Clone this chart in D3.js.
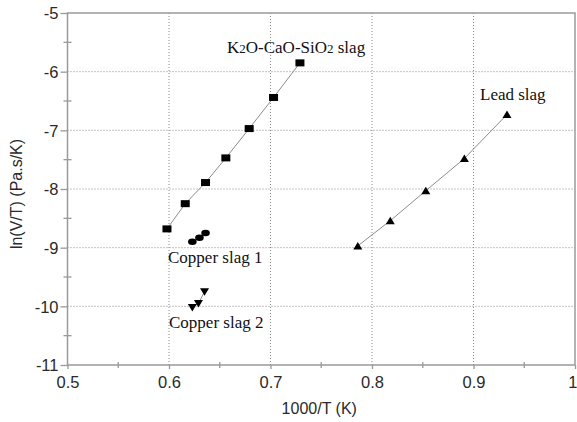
<!DOCTYPE html>
<html>
<head>
<meta charset="utf-8">
<script src="https://cdn.jsdelivr.net/npm/d3@7"></script>
<style>
  body { margin: 0; background: #fff; }
  svg { display: block; }
</style>
</head>
<body>
<svg id="chart" width="577" height="422"></svg>
<script>
// Viscosity data: ln(V/T) against 1000/T for four slags
const kcsX = [0.598, 0.616, 0.636, 0.656, 0.679, 0.703, 0.729];
const kcsY = [-8.68, -8.25, -7.89, -7.47, -6.97, -6.44, -5.85];
const cu1X = [0.623, 0.630, 0.636];
const cu1Y = [-8.90, -8.83, -8.75];
const cu2X = [0.623, 0.629, 0.635];
const cu2Y = [-10.02, -9.95, -9.75];
const leadX = [0.786, 0.818, 0.853, 0.891, 0.933];
const leadY = [-8.97, -8.54, -8.03, -7.48, -6.73];
const xTicks = [0.5, 0.6, 0.7, 0.8, 0.9, 1];
const yTicks = [-5, -6, -7, -8, -9, -10, -11];

const svg = d3.select("#chart");
const plotLeft = 67.5, plotRight = 575, plotTop = 13, plotBottom = 365;

const x = d3.scaleLinear().domain([0.5, 1]).range([plotLeft, plotRight]);
const y = d3.scaleLinear().domain([-11, -5]).range([plotBottom, plotTop]);

const frameColor = "#9a9a9a";
const gridColor = "#8a8a8a";
const sans = "'Liberation Sans', Arial, sans-serif";
const serif = "'Liberation Serif', 'Times New Roman', serif";

// dotted grid at the major ticks
const grid = svg.append("g");
grid.selectAll("line.gx").data(xTicks.filter(v => v > 0.5 && v < 1)).join("line")
  .attr("x1", d => x(d)).attr("x2", d => x(d))
  .attr("y1", plotTop).attr("y2", plotBottom)
  .attr("stroke", gridColor).attr("stroke-width", 1).attr("stroke-dasharray", "1,2");
grid.selectAll("line.gy").data(yTicks.filter(v => v < -5 && v > -11)).join("line")
  .attr("x1", plotLeft).attr("x2", plotRight)
  .attr("y1", d => y(d)).attr("y2", d => y(d))
  .attr("stroke", gridColor).attr("stroke-width", 1).attr("stroke-dasharray", "1,2");

// frame
svg.append("rect").attr("x", plotLeft).attr("y", plotTop)
  .attr("width", plotRight - plotLeft).attr("height", plotBottom - plotTop)
  .attr("fill", "none").attr("stroke", frameColor).attr("stroke-width", 1.5);

// axes
const xAxis = d3.axisBottom(x).tickValues(xTicks).tickSize(4)
  .tickFormat(d => d === 1 ? "1" : d3.format(".1f")(d));
const gx = svg.append("g").attr("transform", `translate(0,${plotBottom})`).call(xAxis);
const yAxis = d3.axisLeft(y).tickValues(yTicks).tickSize(7).tickFormat(d => String(d));
const gy = svg.append("g").attr("transform", `translate(${plotLeft},0)`).call(yAxis);
[gx, gy].forEach(g => {
  g.select(".domain").remove();
  g.selectAll(".tick line").attr("stroke", frameColor).attr("stroke-width", 1.3);
  g.selectAll(".tick text").attr("fill", "#2a2a2a")
    .style("font-family", sans).style("font-size", "16.5px");
});
gx.selectAll(".tick text").attr("dy", "1.0em").attr("y", 6);
// the last label sits against the right edge of the page
gx.selectAll(".tick text").filter(d => d === 1).attr("text-anchor", "end").attr("x", 577 - x(1));
gy.selectAll(".tick text").attr("x", -9).attr("dy", "0.35em");

// minor ticks crossing the axes at half steps
const xMinor = d3.range(0.55, 1, 0.1);
const yMinor = d3.range(-5.5, -11, -1);
svg.append("g").selectAll("line").data(xMinor).join("line")
  .attr("x1", d => x(d)).attr("x2", d => x(d))
  .attr("y1", plotBottom - 3).attr("y2", plotBottom + 3)
  .attr("stroke", frameColor).attr("stroke-width", 1.3);
svg.append("g").selectAll("line").data(yMinor).join("line")
  .attr("x1", plotLeft - 4).attr("x2", plotLeft + 4)
  .attr("y1", d => y(d)).attr("y2", d => y(d))
  .attr("stroke", frameColor).attr("stroke-width", 1.3);

// series lines
const line = d3.line().x(d => x(d[0])).y(d => y(d[1]));
const pairs = (xs, ys) => xs.map((v, i) => [v, ys[i]]);
const series = [
  { pts: pairs(kcsX, kcsY), shape: "square" },
  { pts: pairs(cu1X, cu1Y), shape: "circle" },
  { pts: pairs(cu2X, cu2Y), shape: "down" },
  { pts: pairs(leadX, leadY), shape: "up" }
];
series.forEach(s => {
  svg.append("path").datum(s.pts).attr("d", line)
    .attr("fill", "none").attr("stroke", "#8c8c8c").attr("stroke-width", 1);
});

// markers
series.forEach(s => {
  const g = svg.append("g");
  s.pts.forEach(p => {
    const cx = x(p[0]), cy = y(p[1]);
    if (s.shape === "square") {
      g.append("rect").attr("x", cx - 4.5).attr("y", cy - 3.5)
        .attr("width", 9).attr("height", 7).attr("fill", "#000");
    } else if (s.shape === "circle") {
      g.append("ellipse").attr("cx", cx).attr("cy", cy)
        .attr("rx", 4.3).attr("ry", 3.3).attr("fill", "#000");
    } else if (s.shape === "up") {
      g.append("path").attr("d", `M${cx - 4.5},${cy + 3.5}L${cx + 4.5},${cy + 3.5}L${cx},${cy - 4}Z`)
        .attr("fill", "#000");
    } else {
      g.append("path").attr("d", `M${cx - 4.5},${cy - 3.5}L${cx + 4.5},${cy - 3.5}L${cx},${cy + 4}Z`)
        .attr("fill", "#000");
    }
  });
});

// series labels
const kLabel = svg.append("text").attr("x", 227).attr("y", 53)
  .style("font-family", serif).style("font-size", "17px").attr("fill", "#111");
kLabel.append("tspan").text("K");
kLabel.append("tspan").text("2").style("font-size", "13px");
kLabel.append("tspan").text("O-CaO-SiO");
kLabel.append("tspan").text("2").style("font-size", "13px");
kLabel.append("tspan").text(" slag");

svg.append("text").attr("x", 480).attr("y", 100).text("Lead slag")
  .style("font-family", serif).style("font-size", "17px").attr("fill", "#111");
svg.append("text").attr("x", 168).attr("y", 263).text("Copper slag 1")
  .style("font-family", serif).style("font-size", "17px").attr("fill", "#111");
svg.append("text").attr("x", 169).attr("y", 328).text("Copper slag 2")
  .style("font-family", serif).style("font-size", "17px").attr("fill", "#111");

// axis titles
svg.append("text").attr("x", (plotLeft + plotRight) / 2 - 2).attr("y", 414)
  .attr("text-anchor", "middle").text("1000/T (K)")
  .style("font-family", sans).style("font-size", "16px").attr("fill", "#2a2a2a");
svg.append("text").attr("transform", `translate(22,${(plotTop + plotBottom) / 2 + 5}) rotate(-90)`)
  .attr("text-anchor", "middle").text("ln(V/T) (Pa.s/K)")
  .style("font-family", sans).style("font-size", "16px").attr("fill", "#2a2a2a");
</script>
</body>
</html>
